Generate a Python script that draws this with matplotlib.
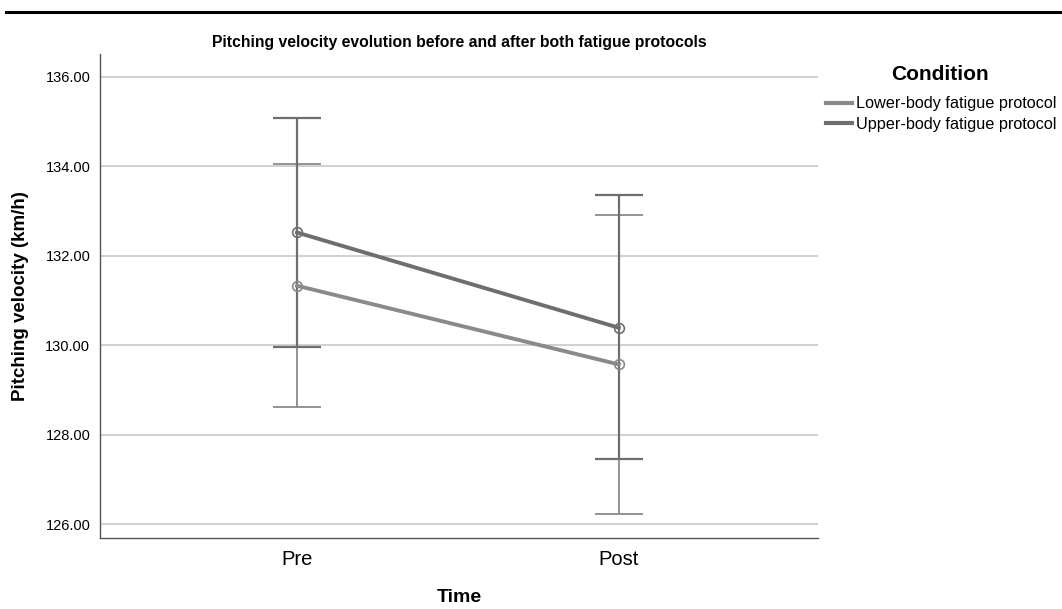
import numpy as np
import matplotlib
matplotlib.use("Agg")
from matplotlib import pyplot as plt
from matplotlib.lines import Line2D

# データ
times = ["Pre", "Post"]
conditions = ["Lower-body fatigue protocol", "Upper-body fatigue protocol"]
lower_mean = [131.33, 129.57]
lower_ci_low = [128.62, 126.22]
lower_ci_high = [134.05, 132.90]
upper_mean = [132.52, 130.39]
upper_ci_low = [129.97, 127.45]
upper_ci_high = [135.08, 133.35]
yticks = [126, 128, 130, 132, 134, 136]

plt.rcParams['font.family'] = ['Liberation Sans', 'DejaVu Sans']

fig = plt.figure(figsize=(10.62, 6.09), dpi=100)
ax = fig.add_axes([0.0942, 0.1166, 0.6758, 0.7947])

x = np.arange(len(times))
series = [
    (lower_mean, lower_ci_low, lower_ci_high, '#8a8a8a', 1.3),
    (upper_mean, upper_ci_low, upper_ci_high, '#6e6e6e', 1.6),
]
for mean, lo, hi, col, elw in series:
    mean = np.array(mean)
    err = [mean - np.array(lo), np.array(hi) - mean]
    ax.errorbar(x, mean, yerr=err, fmt='none', ecolor=col, elinewidth=elw,
                capsize=17, capthick=elw, zorder=3)
for mean, lo, hi, col, elw in series:
    ax.plot(x, mean, color=col, lw=2.8, marker='o', markersize=7,
            markerfacecolor='none', markeredgecolor=col, markeredgewidth=1.2, zorder=4)

ax.set_xlim(-0.612, 1.618)
ax.set_ylim(125.69, 136.51)
ax.set_xticks(x)
ax.set_xticklabels(times, fontsize=14.5)
ax.set_yticks(yticks)
ax.set_yticklabels(["%.2f" % v for v in yticks], fontsize=10.5)
ax.tick_params(axis='x', length=0, pad=9)
ax.tick_params(axis='y', length=0, pad=7)
ax.grid(axis='y', color='#c8c8c8', lw=1.2)
ax.set_axisbelow(True)
for s in ['top', 'right']:
    ax.spines[s].set_visible(False)
for s in ['left', 'bottom']:
    ax.spines[s].set_color('#555555')
    ax.spines[s].set_linewidth(1.0)

ax.set_title("Pitching velocity evolution before and after both fatigue protocols",
             fontsize=11.3, fontweight='bold', pad=5)
ax.set_ylabel("Pitching velocity (km/h)", fontsize=13.5, fontweight='bold', labelpad=12)
ax.set_xlabel("Time", fontsize=14, fontweight='bold', labelpad=14)

# 凡例
fig.text(940 / 1062, 1 - 75 / 609, "Condition", fontsize=15, fontweight='bold',
         ha='center', va='center')
handles = [Line2D([], [], color='#8a8a8a', lw=3), Line2D([], [], color='#6e6e6e', lw=3)]
leg = fig.legend(handles, conditions, loc='upper left',
                 bbox_to_anchor=(0.7705, 0.855), frameon=False, fontsize=11.7,
                 handlelength=1.6, handletextpad=0.25, labelspacing=0.35,
                 borderpad=0)

# 上の黒線
fig.add_artist(Line2D([0.006, 1.0], [0.980, 0.980], color='black', lw=2.2))

fig.savefig("out.png", dpi=100)
